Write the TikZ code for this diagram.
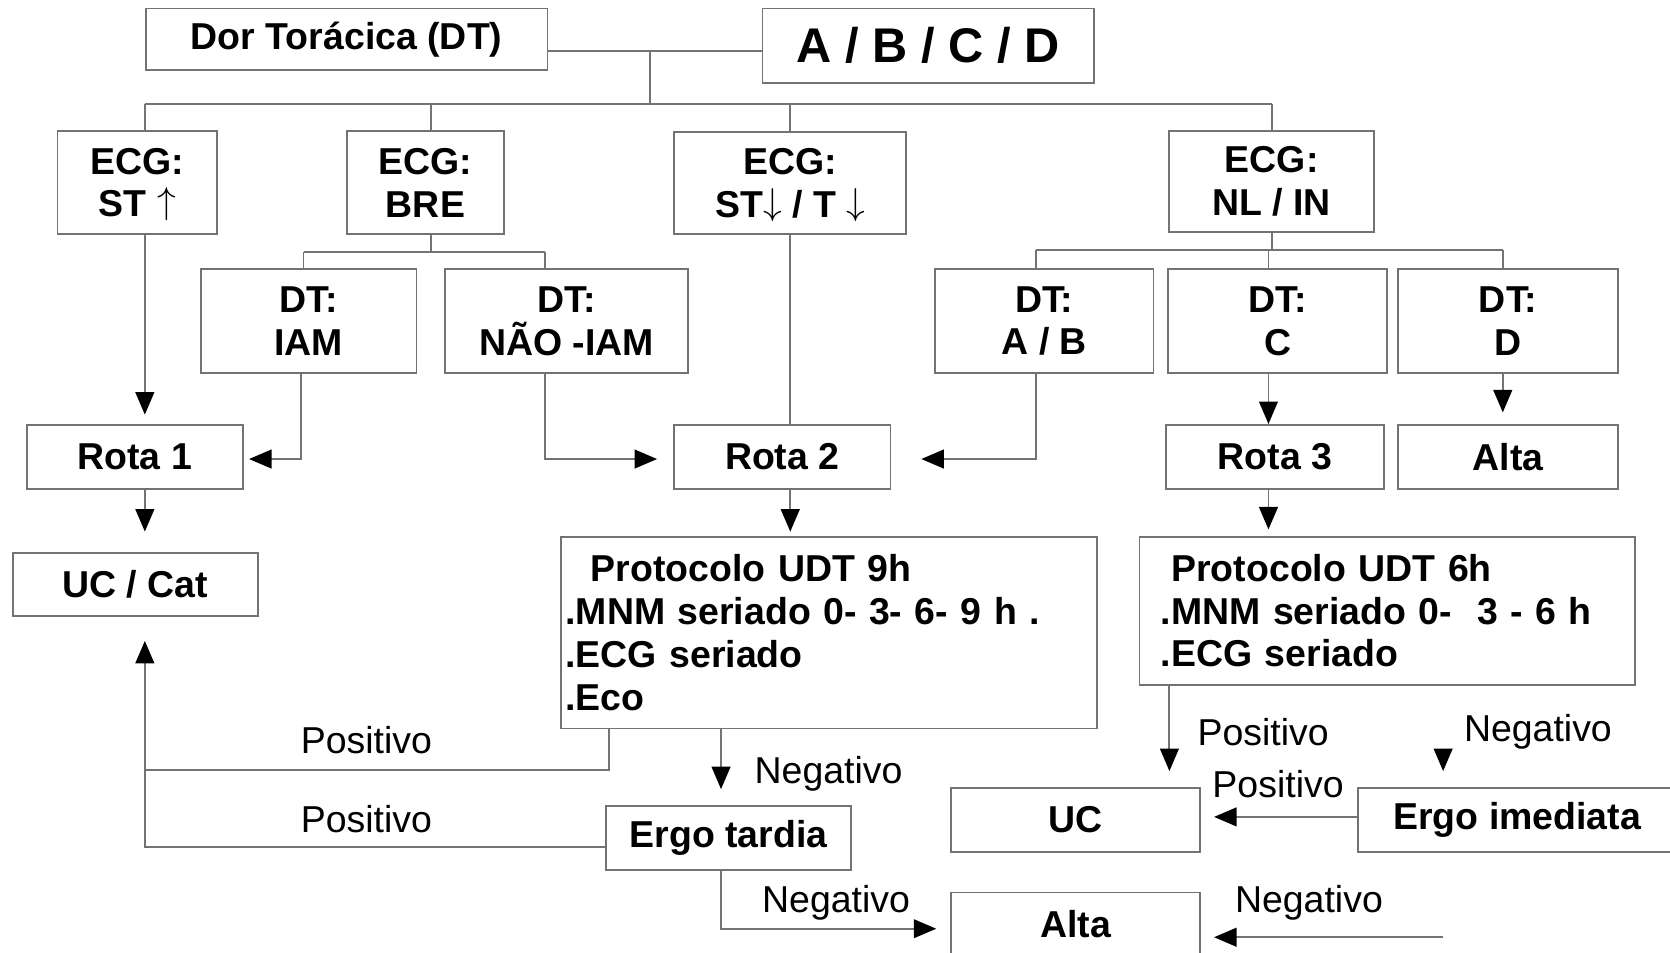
\documentclass[tikz,border=0pt]{standalone}
\usepackage{fontspec}
\setmainfont{Liberation Sans}
\usetikzlibrary{arrows.meta,calc}
\newcommand{\stup}{\smash{\raisebox{0.15ex}{$\uparrow$}}}
\newcommand{\stdown}{\smash{\raisebox{0.15ex}{$\downarrow$}}}
\begin{document}
\begin{tikzpicture}[x=0.01cm,y=-0.01cm,
  box/.style={draw=black!55, line width=0.5pt, inner sep=0pt, align=center,
              font=\fontsize{10}{11.4}\selectfont\bfseries},
  lbl/.style={inner sep=0pt, font=\fontsize{10}{12}\selectfont},
  link/.style={draw=black!55, line width=0.5pt},
  arr/.style={link, -{Triangle[width=5pt,length=6pt,color=black]}}
]
\useasboundingbox (0,0) rectangle (1568,894);

% --- boxes -------------------------------------------------------------
\node[box, minimum width=3.77cm, minimum height=0.58cm] (dor) at (325.5,37) {Dor Torácica (DT)};
\node[box, font=\fontsize{13}{15}\selectfont\bfseries, minimum width=3.11cm, minimum height=0.70cm] (abcd) at (871.5,43) {A / B / C / D};

\node[box, minimum width=1.50cm, minimum height=0.97cm] (ecgst) at (129,171.5) {ECG:\\ST \stup};
\node[box, minimum width=1.47cm, minimum height=0.97cm] (ecgbre) at (399.5,171.5) {ECG:\\BRE};
\node[box, minimum width=2.18cm, minimum height=0.96cm] (ecgstd) at (742,172) {ECG:\\ST\stdown{} / T \stdown};
\node[box, minimum width=1.92cm, minimum height=0.95cm] (ecgnl) at (1194,170.5) {ECG:\\NL / IN};

\node[box, minimum width=2.02cm, minimum height=0.97cm] (dtiam) at (290,301.5) {DT:\\IAM};
\node[box, minimum width=2.28cm, minimum height=0.97cm] (dtnao) at (532,301.5) {DT:\\NÃO -IAM};
\node[box, minimum width=2.05cm, minimum height=0.97cm] (dtab) at (980.5,301.5) {DT:\\A / B};
\node[box, minimum width=2.05cm, minimum height=0.97cm] (dtc) at (1199.5,301.5) {DT:\\C};
\node[box, minimum width=2.06cm, minimum height=0.97cm] (dtd) at (1416,301.5) {DT:\\D};

\node[box, minimum width=2.03cm, minimum height=0.60cm] (rota1) at (126.5,429) {Rota 1};
\node[box, minimum width=2.03cm, minimum height=0.60cm] (rota2) at (734.5,429) {Rota 2};
\node[box, minimum width=2.04cm, minimum height=0.60cm] (rota3) at (1197,429) {Rota 3};
\node[box, minimum width=2.06cm, minimum height=0.60cm] (alta1) at (1416,429) {Alta};

\node[box, minimum width=2.30cm, minimum height=0.59cm] (uccat) at (127,548.5) {UC / Cat};

\node[box, align=left, inner xsep=0.04cm, text width=4.95cm, minimum height=1.80cm] (prot9) at (778.5,594)
  {\hspace*{0.24cm}Protocolo UDT 9h\\.MNM seriado 0- 3- 6- 9 h .\\.ECG seriado\\.Eco};
\node[box, align=left, inner xsep=0.20cm, text width=4.25cm, minimum height=1.39cm] (prot6) at (1302.5,573.5)
  {\hspace*{0.10cm}Protocolo UDT 6h\\.MNM seriado 0-\ \ 3 - 6 h\\.ECG seriado};

\node[box, minimum width=2.30cm, minimum height=0.60cm] (ergot) at (684,787) {Ergo tardia};
\node[box, minimum width=2.34cm, minimum height=0.60cm] (uc) at (1010,770) {UC};
\node[box, minimum width=2.99cm, minimum height=0.60cm] (ergoi) at (1424.5,770) {Ergo imediata};
\node[box, minimum width=2.34cm, minimum height=0.60cm] (alta2) at (1010,868) {Alta};

% --- junction points -----------------------------------------------------
\coordinate (j0) at (610,48);
\coordinate (bus) at (610,98);
\coordinate (b1) at (136,98);
\coordinate (b2) at (405,98);
\coordinate (b3) at (742,98);
\coordinate (b4) at (1194,98);
\coordinate (s1) at (405,237);
\coordinate (s1l) at (285,237);
\coordinate (s1r) at (512,237);
\coordinate (s2) at (1194,235);
\coordinate (s2l) at (973,235);
\coordinate (s2m) at (1191,235);
\coordinate (s2r) at (1411,235);
\coordinate (k1) at (283,431);
\coordinate (k2) at (512,431);
\coordinate (k3) at (973,431);
\coordinate (p1) at (572,723);
\coordinate (p0) at (136,723);
\coordinate (q0) at (136,795);
\coordinate (n1) at (677,872);
\coordinate (u1) at (1098,725);
\coordinate (v0) at (1355,703);
\coordinate (v1) at (1355,724);
\coordinate (w0) at (1275,767);
\coordinate (z0) at (1355,880);

% --- tree lines ----------------------------------------------------------
\draw[link] (dor.east |- j0) -- (abcd.west |- j0);
\draw[link] (j0) -- (bus);
\draw[link] (b1) -- (b4);
\draw[link] (b1) -- (b1 |- ecgst.north);
\draw[link] (b2) -- (b2 |- ecgbre.north);
\draw[link] (b3) -- (b3 |- ecgstd.north);
\draw[link] (b4) -- (b4 |- ecgnl.north);

\draw[link] (s1 |- ecgbre.south) -- (s1);
\draw[link] (s1l) -- (s1r);
\draw[link] (s1l) -- (s1l |- dtiam.north);
\draw[link] (s1r) -- (s1r |- dtnao.north);

\draw[link] (s2 |- ecgnl.south) -- (s2);
\draw[link] (s2l) -- (s2r);
\draw[link] (s2l) -- (s2l |- dtab.north);
\draw[link] (s2m) -- (s2m |- dtc.north);
\draw[link] (s2r) -- (s2r |- dtd.north);

% --- routes --------------------------------------------------------------
\draw[arr, shorten >=2.5pt] (b1 |- ecgst.south) -- (b1 |- rota1.north);
\draw[arr, shorten >=1.4pt] (k1 |- dtiam.south) -- (k1) -- (rota1.east |- k1);
\draw[arr, shorten >=4.3pt] (k2 |- dtnao.south) -- (k2) -- (rota2.west |- k2);
\draw[link] (b3 |- ecgstd.south) -- (b3 |- rota2.north);
\draw[arr, shorten >=8pt] (k3 |- dtab.south) -- (k3) -- (rota2.east |- k3);
\draw[arr] (s2m |- dtc.south) -- (s2m |- rota3.north);
\draw[arr, shorten >=3.1pt] (s2r |- dtd.south) -- (s2r |- alta1.north);

\draw[arr, shorten >=5.4pt] (b1 |- rota1.south) -- (b1 |- uccat.north);
\draw[arr, shorten >=1.1pt] (b3 |- rota2.south) -- (b3 |- prot9.north);
\draw[arr, shorten >=1.7pt] (s2m |- rota3.south) -- (s2m |- prot6.north);

% --- results -------------------------------------------------------------
\draw[link] (p1 |- prot9.south) -- (p1) -- (p0);
\draw[arr, shorten >=6.5pt] (ergot.west |- q0) -- (q0) -- (b1 |- uccat.south);
\draw[arr, shorten >=4.3pt] (n1 |- prot9.south) -- (n1 |- ergot.north);
\draw[arr, shorten >=3.7pt] (n1 |- ergot.south) -- (n1) -- (alta2.west |- n1);
\draw[arr, shorten >=4.3pt] (u1 |- prot6.south) -- (u1 |- uc.north);
\draw[arr] (v0) -- (v1);
\draw[arr, shorten >=3.4pt] (ergoi.west |- w0) -- (uc.east |- w0);
\draw[arr, shorten >=3.4pt] (z0) -- (alta2.east |- z0);

% --- labels --------------------------------------------------------------
\node[lbl] (lp1) at (344,695) {Positivo};
\node[lbl] (lp2) at (344,769) {Positivo};
\node[lbl] (ln1) at (778,727) {Negativo};
\node[lbl] (ln2) at (785,848) {Negativo};
\node[lbl] (lp3) at (1186,687) {Positivo};
\node[lbl] (ln3) at (1444,687) {Negativo};
\node[lbl] (lp4) at (1200,736) {Positivo};
\node[lbl] (ln4) at (1229,848) {Negativo};
\end{tikzpicture}
\end{document}
